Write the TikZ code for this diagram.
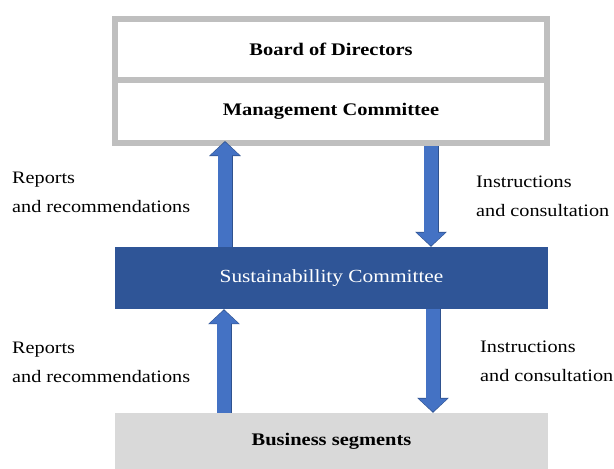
\documentclass[tikz,border=0pt]{standalone}
\usepackage{fontspec}
\setmainfont{Liberation Serif}[FakeStretch=1.155]
\usetikzlibrary{arrows.meta,positioning}
\definecolor{framegray}{HTML}{BFBFBF}
\definecolor{committeeblue}{HTML}{2F5597}
\definecolor{segmentgray}{HTML}{D9D9D9}
\definecolor{arrowfill}{HTML}{4472C4}
\definecolor{arrowedge}{HTML}{2F528F}

\begin{document}
\begin{tikzpicture}[x=1pt,y=-1pt,
  level/.style={rectangle, minimum width=432pt, inner sep=0pt, font=\fontsize{17.7}{20}\selectfont\bfseries},
  note/.style={align=left, inner sep=0pt, anchor=west, font=\fontsize{17.5}{29}\selectfont},
  flowedge/.style={line width=15pt, draw=arrowedge, -{Triangle[width=31pt,length=15pt]}},
  flowfill/.style={line width=13.4pt, draw=arrowfill, -{Triangle[width=28.4pt,length=13.2pt]}}]

  % Fixed bounding box
  \path[use as bounding box] (0,0) rectangle (614,469);

  % Top frame: board and management
  \node[level, draw=framegray, line width=6pt, minimum height=61pt] (board) at (331,49.5) {Board of Directors};
  \node[level, draw=framegray, line width=6pt, minimum height=63pt] (mgmt) at (331,111.5) {Management Committee};

  % Committee and segments
  \node[level, minimum width=433pt, minimum height=62pt, fill=committeeblue, text=white,
        font=\fontsize{18.5}{22}\selectfont] (sust) at (331.5,278) {Sustainabillity Committee};
  \node[level, minimum width=433pt, minimum height=56pt, fill=segmentgray] (seg) at (331.5,441) {Business segments};

  % Block arrows
  \foreach \from/\to/\xx/\ext in {sust.north/mgmt.south/225/-5, mgmt.south/sust.north/431/0,
                                  seg.north/sust.south/224/0, sust.south/seg.north/433/0} {
    \draw[flowedge, shorten >={\ext pt}] (\from -| \xx,0) -- (\to -| \xx,0);
    \draw[flowfill, shorten >={\ext pt+1.1pt}] (\from -| \xx,0) -- (\to -| \xx,0);
  }

  % Labels
  \node[note] (repup) at (12,192.5) {Reports\\and recommendations};
  \node[note] (insup) at (476,196) {Instructions\\and consultation};
  \node[note] (replow) at (12,362) {Reports\\and recommendations};
  \node[note] (inslow) at (480,361) {Instructions\\and consultation};

\end{tikzpicture}
\end{document}
